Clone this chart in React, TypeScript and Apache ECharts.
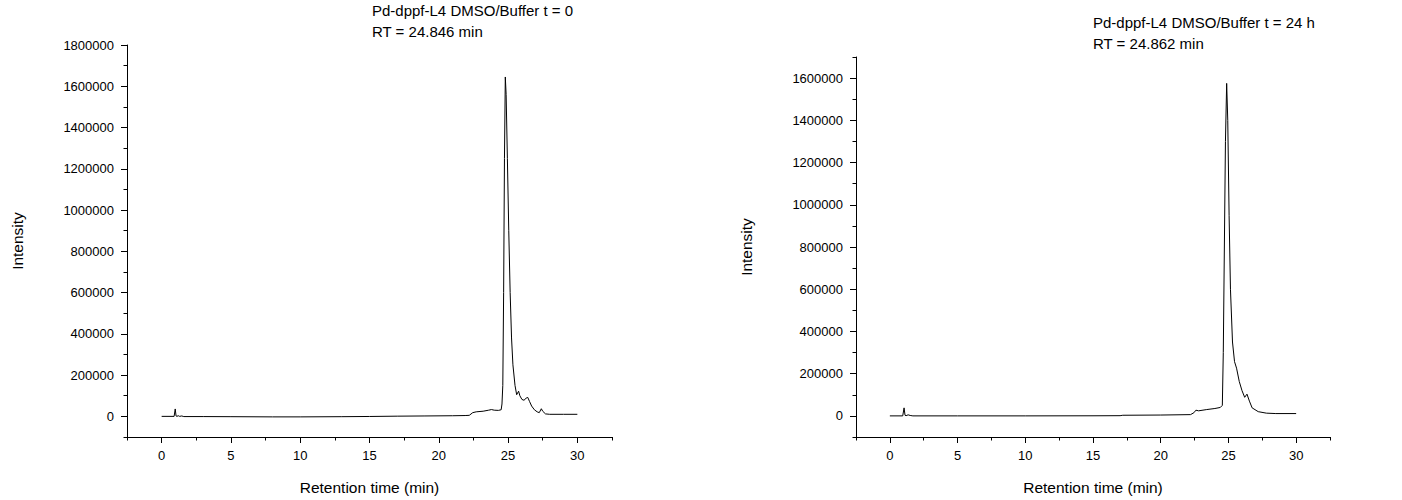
import React, { useEffect, useRef } from "react";
import * as echarts from "echarts";

// ---- Data ----
const leftTimes = [0, 0.9, 0.98, 1.04, 1.1, 1.2, 1.3, 1.45, 1.6, 3, 5, 8, 10, 13, 15, 17, 19, 21, 21.9, 22.2, 22.45, 22.7, 23.2, 23.6, 23.8, 24.0, 24.3, 24.5, 24.56, 24.62, 24.68, 24.74, 24.8, 24.86, 24.95, 25.05, 25.15, 25.25, 25.35, 25.5, 25.62, 25.76, 25.85, 26.0, 26.15, 26.3, 26.42, 26.55, 26.7, 26.9, 27.1, 27.25, 27.4, 27.5, 27.7, 28, 29, 30];
const leftIntensity = [0, 0, 36000, 2000, 0, 3000, 0, 2000, -1000, -1000, -1500, -2500, -2500, -1500, -500, 1000, 2000, 3000, 4000, 5000, 18000, 22000, 25000, 30000, 33000, 30000, 29000, 32000, 60000, 150000, 600000, 1250000, 1645000, 1560000, 1250000, 900000, 600000, 380000, 250000, 150000, 105000, 122000, 100000, 82000, 78000, 88000, 92000, 72000, 50000, 32000, 22000, 18000, 37000, 25000, 12000, 10000, 10000, 10000];

const rightTimes = [0, 0.95, 1.05, 1.12, 1.2, 1.35, 1.5, 1.7, 5, 10, 15, 17, 17.2, 20, 22.2, 22.45, 22.6, 22.8, 23.4, 24, 24.4, 24.55, 24.62, 24.7, 24.78, 24.87, 24.95, 25.05, 25.15, 25.3, 25.45, 25.6, 25.8, 26.0, 26.2, 26.37, 26.55, 26.75, 27.2, 27.8, 28.5, 30];
const rightIntensity = [0, 0, 38000, 3000, 1000, 5000, 2000, 0, 0, 0, 500, 1000, 3000, 4000, 6000, 15000, 27000, 24000, 30000, 35000, 40000, 50000, 300000, 800000, 1300000, 1575000, 1400000, 950000, 600000, 350000, 257000, 226000, 163000, 120000, 88000, 103000, 70000, 38000, 20000, 13000, 11000, 11000];

const xMajorTicks = [0, 5, 10, 15, 20, 25, 30];
const xMinorTicks = [-2.5, 2.5, 7.5, 12.5, 17.5, 22.5, 27.5, 32.5];
const leftYMajorTicks = [0, 200000, 400000, 600000, 800000, 1000000, 1200000, 1400000, 1600000, 1800000];
const leftYMinorTicks = [-100000, 100000, 300000, 500000, 700000, 900000, 1100000, 1300000, 1500000, 1700000];
const rightYMajorTicks = [0, 200000, 400000, 600000, 800000, 1000000, 1200000, 1400000, 1600000];
const rightYMinorTicks = [-100000, 100000, 300000, 500000, 700000, 900000, 1100000, 1300000, 1500000, 1700000];

const leftTitle = ["Pd-dppf-L4 DMSO/Buffer t = 0", "RT = 24.846 min"];
const rightTitle = ["Pd-dppf-L4 DMSO/Buffer t = 24 h", "RT = 24.862 min"];
const xName = "Retention time (min)";
const yName = "Intensity";

const FONT = "Arial, 'Liberation Sans', sans-serif";

function mainX(gridIndex: number) {
  return {
    type: "value",
    gridIndex,
    position: "bottom",
    min: -2.5,
    max: 32.5,
    name: xName,
    nameLocation: "middle",
    nameGap: 42,
    nameTextStyle: { fontSize: 15.5, color: "#000", fontFamily: FONT },
    axisLine: { show: true, onZero: false, lineStyle: { color: "#000", width: 1 } },
    axisTick: { show: true, length: 6, lineStyle: { color: "#000" }, customValues: xMajorTicks },
    axisLabel: { show: true, fontSize: 13, color: "#000", fontFamily: FONT, margin: 12, customValues: xMajorTicks, formatter: (v: number) => String(v) },
    splitLine: { show: false },
  };
}
function minorX(gridIndex: number) {
  return {
    type: "value",
    gridIndex,
    position: "bottom",
    min: -2.5,
    max: 32.5,
    axisLine: { show: false, onZero: false },
    axisTick: { show: true, length: 3.5, lineStyle: { color: "#000" }, customValues: xMinorTicks },
    axisLabel: { show: false },
    splitLine: { show: false },
  };
}
function mainY(gridIndex: number, max: number, ticks: number[]) {
  return {
    type: "value",
    gridIndex,
    position: "left",
    min: -100000,
    max,
    name: yName,
    nameLocation: "middle",
    nameGap: 102,
    nameTextStyle: { fontSize: 15.5, color: "#000", fontFamily: FONT },
    axisLine: { show: true, onZero: false, lineStyle: { color: "#000", width: 1 } },
    axisTick: { show: true, length: 6, lineStyle: { color: "#000" }, customValues: ticks },
    axisLabel: { show: true, fontSize: 13, color: "#000", fontFamily: FONT, margin: 13, customValues: ticks, formatter: (v: number) => String(v) },
    splitLine: { show: false },
  };
}
function minorY(gridIndex: number, max: number, ticks: number[]) {
  return {
    type: "value",
    gridIndex,
    min: -100000,
    max,
    position: "left",
    axisLine: { show: false, onZero: false },
    axisTick: { show: true, length: 3.5, lineStyle: { color: "#000" }, customValues: ticks },
    axisLabel: { show: false },
    splitLine: { show: false },
  };
}

function titleText(x: number, y: number, text: string) {
  return {
    type: "text",
    x,
    y,
    style: { text, fontSize: 15, fill: "#000", fontFamily: FONT, verticalAlign: "middle", align: "left" },
  };
}

export default function App() {
  const ref = useRef<HTMLDivElement>(null);
  useEffect(() => {
    if (!ref.current) return;
    const chart = echarts.init(ref.current, undefined, { renderer: "svg" });
    const leftData = leftTimes.map((t, i) => [t, leftIntensity[i]]);
    const rightData = rightTimes.map((t, i) => [t, rightIntensity[i]]);
    chart.setOption({
      animation: false,
      backgroundColor: "#fff",
      grid: [
        { left: 127, top: 45, width: 485, height: 392 },
        { left: 856, top: 57, width: 474, height: 382 },
      ],
      xAxis: [mainX(0), minorX(0), mainX(1), minorX(1)],
      yAxis: [
        mainY(0, 1800000, leftYMajorTicks),
        minorY(0, 1800000, leftYMinorTicks),
        mainY(1, 1700000, rightYMajorTicks),
        minorY(1, 1700000, rightYMinorTicks),
      ],
      series: [
        {
          type: "line",
          xAxisIndex: 0,
          yAxisIndex: 0,
          data: leftData,
          showSymbol: false,
          lineStyle: { color: "#000", width: 1 },
          silent: true,
        },
        {
          type: "line",
          xAxisIndex: 2,
          yAxisIndex: 2,
          data: rightData,
          showSymbol: false,
          lineStyle: { color: "#000", width: 1 },
          silent: true,
        },
      ],
      graphic: [
        titleText(372, 10, leftTitle[0]),
        titleText(372, 31, leftTitle[1]),
        titleText(1093, 22, rightTitle[0]),
        titleText(1093, 43, rightTitle[1]),
      ],
    });
    return () => chart.dispose();
  }, []);
  return (
    <div
      ref={ref}
      style={{ position: "fixed", left: 0, top: 0, width: 1402, height: 500, background: "#fff" }}
    />
  );
}
